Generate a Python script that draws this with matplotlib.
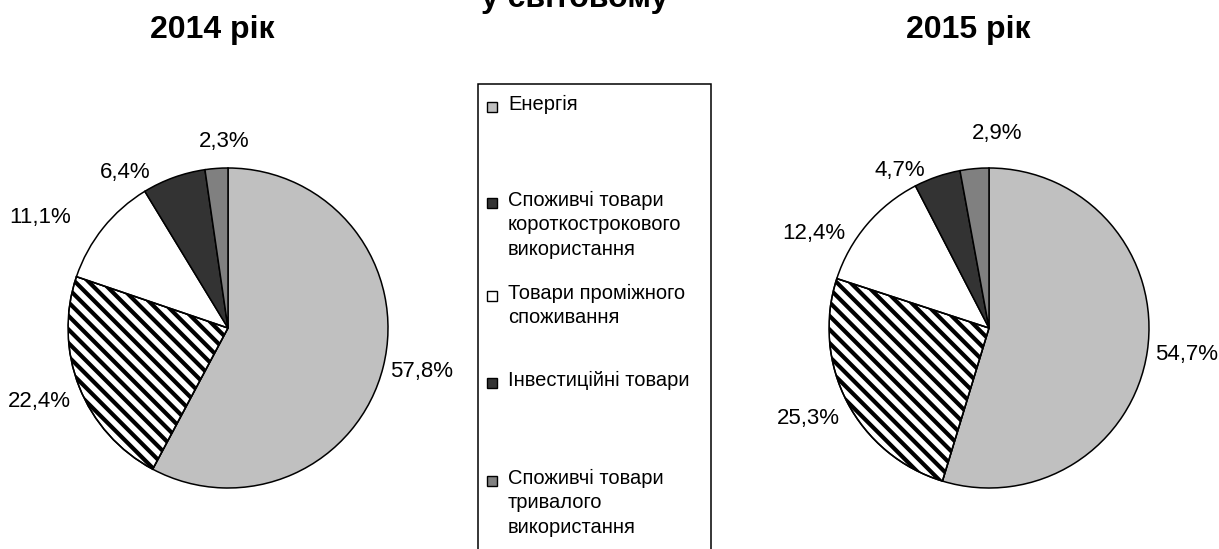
import numpy as np
import matplotlib
matplotlib.use('Agg')
import matplotlib.pyplot as plt
from matplotlib.patches import Rectangle, PathPatch

plt.rcParams['font.family'] = ['Liberation Sans', 'DejaVu Sans']

# data
categories = ['Енергія',
              'Споживчі товари\nкороткострокового\nвикористання',
              'Товари проміжного\nспоживання',
              'Інвестиційні товари',
              'Споживчі товари\nтривалого\nвикористання']
years = ['2014 рік', '2015 рік']
share_2014 = [57.8, 22.4, 11.1, 6.4, 2.3]
share_2015 = [54.7, 25.3, 12.4, 4.7, 2.9]

colors = ['#c0c0c0', 'white', 'white', '#333333', '#808080']
striped = [False, True, False, False, False]

# manual nudges of the percent labels (px), like in the original layout
nudge_2014 = [(0, 0), (-3, 8), (-33, 1), (-37, 12), (10, -8)]
nudge_2015 = [(0, 0), (-4, 8), (-23, 21), (-27, 11), (26, -17)]

W, H = 1219, 549
fig = plt.figure(figsize=(W / 100, H / 100), dpi=100)

R = 160  # pie radius in px
centers = [(228, 328), (989, 328)]


def fmt(v):
    return ('%.1f%%' % v).replace('.', ',')


axes = []
for (cx, cy), vals in zip(centers, [share_2014, share_2015]):
    ax = fig.add_axes([(cx - R) / W, (H - cy - R) / H, 2 * R / W, 2 * R / H])
    wedges, _ = ax.pie(vals, colors=colors, startangle=90, counterclock=False,
                       radius=1, wedgeprops=dict(edgecolor='black', linewidth=1.1))
    # diagonal stripes
    pitch = 9.6 / R * np.sqrt(2)
    for w, s in zip(wedges, striped):
        if not s:
            continue
        for c in np.arange(-1.6, 1.6, pitch):
            ln, = ax.plot([-1.2, 1.2], [1.2 + c, -1.2 + c], color='black',
                          lw=3.0, solid_capstyle='butt', zorder=1.5)
            ln.set_clip_path(w)
        # redraw edge over the stripes
        ax.add_patch(PathPatch(w.get_path(), fill=False, edgecolor='black',
                               linewidth=1.1, zorder=2, transform=w.get_transform()))
    ax.set_xlim(-1, 1)
    ax.set_ylim(-1, 1)
    ax.set_axis_off()
    axes.append((ax, wedges, vals))

# percentage labels just outside each wedge
fig.canvas.draw()
renderer = fig.canvas.get_renderer()
gap = 0.05
for (ax, wedges, vals), nudges in zip(axes, [nudge_2014, nudge_2015]):
    for w, v, (nx, ny) in zip(wedges, vals, nudges):
        ang = np.deg2rad((w.theta1 + w.theta2) / 2)
        dx, dy = np.cos(ang), np.sin(ang)
        t = ax.text(dx * (1 + gap), dy * (1 + gap), fmt(v), ha='center', va='center',
                    fontsize=16, clip_on=False)
        bb = t.get_window_extent(renderer)
        t.set_position((dx * (1 + gap) + (dx * bb.width / 2 + nx) / R,
                        dy * (1 + gap) + (dy * bb.height / 2 - ny) / R))

# titles
fig.text(212 / W, 1 - 30 / H, years[0], ha='center', va='center', fontsize=23, fontweight='bold')
fig.text(968 / W, 1 - 30 / H, years[1], ha='center', va='center', fontsize=23, fontweight='bold')
fig.text(575 / W, 1 - 7 / H, 'у світовому', ha='center', va='baseline', fontsize=23,
         fontweight='bold')

# legend box
box_l, box_r, box_t = 478, 711, 84
fig.patches.append(Rectangle((box_l / W, -0.05), (box_r - box_l) / W, 1 - box_t / H + 0.05,
                             transform=fig.transFigure, facecolor='white',
                             edgecolor='black', linewidth=1.1, zorder=0))
slot_y = [107, 203, 296, 383, 481]
for lab, c, s, yc in zip(categories, colors, striped, slot_y):
    fig.patches.append(Rectangle((487 / W, 1 - (yc + 5) / H), 10 / W, 10 / H,
                                 transform=fig.transFigure,
                                 facecolor='#333333' if s else c,
                                 edgecolor='black', linewidth=1.0))
    if s:
        fig.patches.append(Rectangle((487 / W, 1 - (yc + 5) / H), 10 / W, 10 / H,
                                     transform=fig.transFigure, facecolor='none',
                                     edgecolor='white', linewidth=0, hatch='\\'))
    fig.text(508 / W, 1 - (yc - 12) / H, lab, ha='left', va='top', fontsize=14.5,
             linespacing=1.35)

fig.savefig('out.png', dpi=100)
